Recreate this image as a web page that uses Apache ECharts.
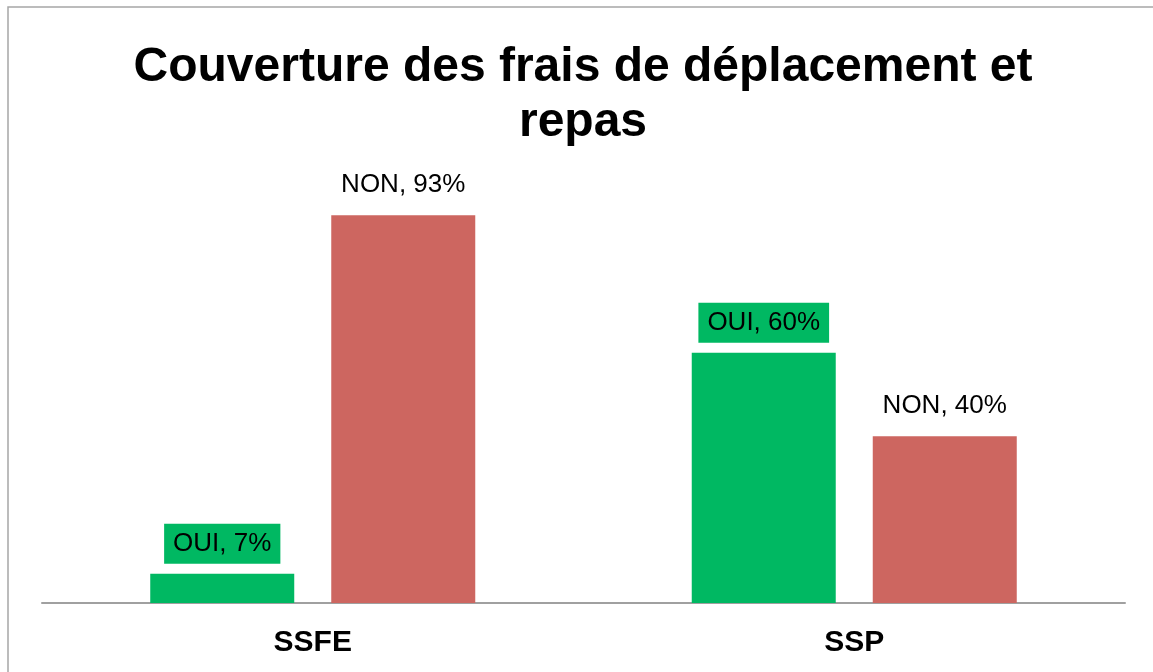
<!DOCTYPE html>
<html>
<head>
<meta charset="utf-8">
<script src="https://cdn.jsdelivr.net/npm/echarts@6/dist/echarts.min.js"></script>
<style>
html,body{margin:0;padding:0;background:#fff;}
#chart{width:1153px;height:672px;}
</style>
</head>
<body>
<div id="chart"></div>
<script>
const titleText = 'Couverture des frais de déplacement et\nrepas';
const categories = ['SSFE', 'SSP'];
const seriesNames = ['OUI', 'NON'];
const ouiValues = [7, 60];
const nonValues = [93, 40];

const FONT = '"Liberation Sans", Arial, sans-serif';
const GREEN = '#00B862';
const RED = '#CD6660';

const chart = echarts.init(document.getElementById('chart'));

function labelCfg(bg) {
  return {
    show: true,
    position: 'top',
    distance: 10,
    formatter: '{a}, {c}%',
    fontFamily: FONT,
    fontSize: 26,
    lineHeight: 26,
    color: '#000',
    padding: [7, 9],
    backgroundColor: bg
  };
}

chart.setOption({
  animation: false,
  backgroundColor: '#fff',
  graphic: [
    {
      type: 'rect',
      shape: { x: 8, y: 7, width: 1400, height: 900 },
      style: { fill: 'none', stroke: '#a6a6a6', lineWidth: 1.5 },
      silent: true
    },
    {
      type: 'text',
      x: 583,
      y: 40,
      style: {
        text: titleText,
        fontFamily: FONT,
        fontSize: 48,
        fontWeight: 'bold',
        lineHeight: 55,
        fill: '#000',
        align: 'center',
        verticalAlign: 'top'
      },
      silent: true
    }
  ],
  grid: { left: 42, right: 28, top: 186, bottom: 69 },
  xAxis: {
    type: 'category',
    data: categories,
    axisLine: { show: true, lineStyle: { color: '#a0a0a0', width: 2 } },
    axisTick: { show: false },
    axisLabel: {
      margin: 25,
      fontFamily: FONT,
      fontSize: 30,
      fontWeight: 'bold',
      color: '#000'
    }
  },
  yAxis: {
    type: 'value',
    min: 0,
    max: 100,
    show: false,
    splitLine: { show: false }
  },
  series: [
    {
      name: seriesNames[0],
      type: 'bar',
      data: ouiValues,
      barWidth: 144,
      barGap: '25.7%',
      itemStyle: { color: GREEN },
      label: labelCfg(GREEN)
    },
    {
      name: seriesNames[1],
      type: 'bar',
      data: nonValues,
      barWidth: 144,
      barGap: '25.7%',
      itemStyle: { color: RED },
      label: labelCfg('transparent')
    }
  ]
});
</script>
</body>
</html>
